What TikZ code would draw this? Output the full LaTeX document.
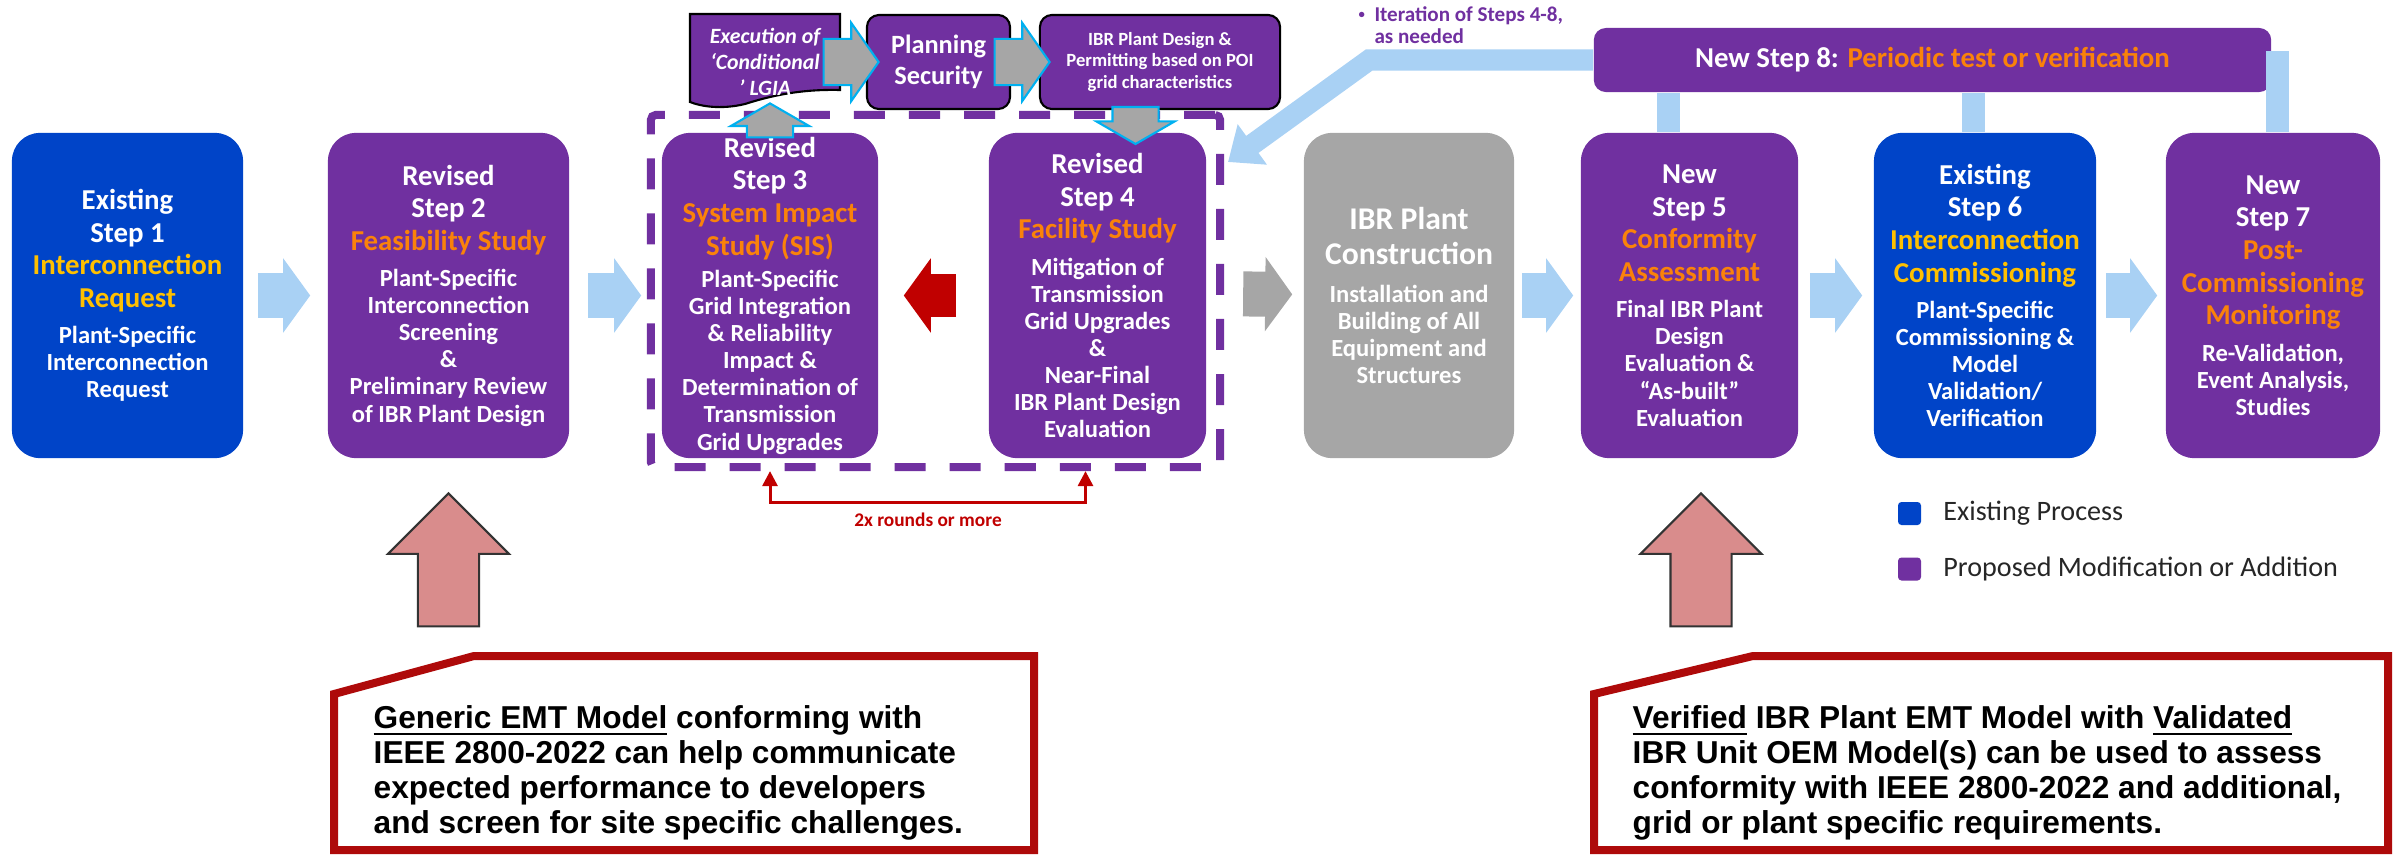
\documentclass[tikz,border=0pt]{standalone}
\usepackage{fontspec}
\setmainfont{Carlito}
\newfontfamily\notefont{Liberation Sans}
\usetikzlibrary{arrows.meta,shapes.arrows,positioning,calc}
\definecolor{Bl}{RGB}{0,68,200}
\definecolor{Pu}{RGB}{112,48,160}
\definecolor{Or}{RGB}{250,130,10}
\definecolor{Ye}{RGB}{255,192,0}
\definecolor{Gr}{RGB}{166,166,166}
\definecolor{Lb}{RGB}{169,209,244}
\definecolor{Cy}{RGB}{0,176,240}
\definecolor{Rd}{RGB}{192,0,0}
\definecolor{Dr}{RGB}{174,10,10}
\definecolor{Pk}{RGB}{217,140,140}
\newcommand{\stephead}{\fontsize{8.2}{9.3}\selectfont}
\newcommand{\stepbody}{\fontsize{7}{7.7}\selectfont}

\begin{document}
\begin{tikzpicture}[x=0.01cm,y=-0.01cm,
    stepbox/.style={rounded corners=0.28cm,minimum height=3.25cm,inner sep=0pt,text=white,align=flush center,font=\bfseries},
    topbox/.style={draw=black,line width=0.6pt,fill=Pu,rounded corners=0.12cm,inner sep=0pt,text=white,align=center},
    flow/.style={line width=0.45cm,-{Triangle[length=0.27cm,width=0.73cm]}},
    hook/.style={single arrow,fill=Gr,draw=Cy,line width=0.6pt,inner xsep=0pt,inner ysep=0.22cm,single arrow head extend=0.16cm},
    band/.style={Lb,line width=0.23cm},
    lift/.style={single arrow,shape border rotate=90,fill=Pk,draw=black!80,line width=0.6pt,inner xsep=0.295cm,inner ysep=0pt,minimum height=1.33cm,single arrow head extend=0.3cm,single arrow tip angle=90},
    calloutbox/.style={draw=Dr,line width=0.08cm,fill=white},
    notetext/.style={anchor=north west,inner sep=0pt,align=left,font=\notefont\bfseries\fontsize{9}{9.9}\selectfont},
    legendbox/.style={minimum size=0.23cm,inner sep=0pt,rounded corners=1pt},
    legendtext/.style={right=0.21cm of #1,inner sep=0pt,text=black!85,font=\fontsize{8}{9}\selectfont}]

  \useasboundingbox (0,0) rectangle (2396,854);

  % loop between step 3 and step 4
  \node[draw=Pu,line width=0.08cm,dash pattern=on 0.31cm off 0.24cm,rounded corners=0.05cm,
    minimum width=5.69cm,minimum height=3.52cm] (loop) at (935.5,291) {};

  % steps
  \node[stepbox,fill=Bl,minimum width=2.31cm,text width=2.2cm] (s1) at (127.5,295.5)
    {{\stephead Existing\\Step 1\\\color{Ye}Interconnection\\Request\par}\vspace{2.6pt}
     {\stepbody Plant-Specific\\Interconnection\\Request\par}};
  \node[stepbox,fill=Pu,minimum width=2.41cm,text width=2.3cm] (s2) at (448.5,295.5)
    {{\stephead Revised\\Step 2\\\color{Or}Feasibility Study\par}\vspace{2.6pt}
     {\stepbody Plant-Specific\\Interconnection\\Screening\\\&\\Preliminary Review\\of IBR Plant Design\par}};
  \node[stepbox,fill=Pu,minimum width=2.16cm,text width=2.1cm] (s3) at (770,295.5)
    {{\stephead Revised\\Step 3\\\color{Or}System Impact\\Study (SIS)\par}\vspace{1.5pt}
     {\stepbody Plant-Specific\\Grid Integration\\\& Reliability\\Impact \&\\Determination of\\Transmission\\Grid Upgrades\par}};
  \node[stepbox,fill=Pu,minimum width=2.17cm,text width=2.1cm] (s4) at (1097.5,295.5)
    {{\stephead Revised\\Step 4\\\color{Or}Facility Study\par}\vspace{2.6pt}
     {\stepbody Mitigation of\\Transmission\\Grid Upgrades\\\&\\Near-Final\\IBR Plant Design\\Evaluation\par}};
  \node[stepbox,fill=Gr,minimum width=2.10cm,text width=2.05cm] (build) at (1409,295.5)
    {{\fontsize{9}{10}\selectfont IBR Plant\\Construction\par}\vspace{3pt}
     {\stepbody Installation and\\Building of All\\Equipment and\\Structures\par}};
  \node[stepbox,fill=Pu,minimum width=2.17cm,text width=2.1cm] (s5) at (1689.5,295.5)
    {{\stephead New\\Step 5\\\color{Or}Conformity\\Assessment\par}\vspace{2.6pt}
     {\stepbody Final IBR Plant\\Design\\Evaluation \&\\“As-built”\\Evaluation\par}};
  \node[stepbox,fill=Bl,minimum width=2.22cm,text width=2.15cm] (s6) at (1985,295.5)
    {{\stephead Existing\\Step 6\\\color{Ye}Interconnection\\Commissioning\par}\vspace{2.6pt}
     {\stepbody Plant-Specific\\Commissioning \&\\Model\\Validation/\\Verification\par}};
  \node[stepbox,fill=Pu,minimum width=2.14cm,text width=2.1cm] (s7) at (2273,295.5)
    {{\stephead New\\Step 7\\\color{Or}Post-\\Commissioning\\Monitoring\par}\vspace{2.6pt}
     {\stepbody Re-Validation,\\Event Analysis,\\Studies\par}};

  % flow arrows
  \draw[flow,Lb,shorten <=0.14cm,shorten >=0.17cm] (s1) -- (s2);
  \draw[flow,Lb,shorten <=0.18cm,shorten >=0.20cm] (s2) -- (s3);
  \draw[flow,Rd,line width=0.43cm,shorten <=0.32cm,shorten >=0.25cm] (s4) -- (s3);
  \draw[flow,Gr,shorten <=0.19cm,shorten >=0.11cm] (loop) -- (build);
  \draw[flow,Lb,shorten <=0.07cm,shorten >=0.07cm] (build) -- (s5);
  \draw[flow,Lb,shorten <=0.11cm,shorten >=0.11cm] (s5) -- (s6);
  \draw[flow,Lb,shorten <=0.09cm,shorten >=0.08cm] (s6) -- (s7);

  % 2x rounds
  \draw[Rd,line width=0.03cm,{Triangle[length=0.15cm,width=0.15cm]}-{Triangle[length=0.15cm,width=0.15cm]}]
    (s3 |- loop.south) |- ([yshift=-0.31cm]loop.south) -| ($(s4 |- loop.south)+(-12,0)$);
  \node[text=Rd,font=\bfseries\fontsize{5.5}{6}\selectfont] (rounds) at (928,520) {2x rounds or more};

  % top row
  \filldraw[fill=Pu,draw=black,line width=0.6pt] (690,14) -- (840,14) -- (840,90)
    .. controls (800,89) and (770,96) .. (745,104) .. controls (720,110) and (700,106) .. (690,102) -- cycle;
  \node[text=white,align=center,font=\bfseries\itshape\fontsize{6.2}{7.3}\selectfont] (exec) at (765,62)
    {Execution of\\‘Conditional\\’ LGIA};
  \node[topbox,minimum width=1.43cm,minimum height=0.94cm,font=\bfseries\fontsize{7.5}{8.8}\selectfont] (plan) at (938.5,62)
    {Planning\\Security};
  \node[topbox,minimum width=2.40cm,minimum height=0.94cm,font=\bfseries\fontsize{5.3}{6}\selectfont] (ibr) at (1160,62)
    {IBR Plant Design \&\\Permitting based on POI\\grid characteristics};
  \node[hook,minimum height=0.55cm,single arrow tip angle=110,anchor=tip] (h1) at ([xshift=0.14cm]plan.west) {};
  \node[hook,minimum height=0.55cm,single arrow tip angle=110,anchor=tip] (h2) at ([xshift=0.12cm]ibr.west) {};
  \node[hook,shape border rotate=90,inner xsep=0.22cm,inner ysep=0pt,minimum height=0.34cm,single arrow tip angle=120,anchor=tip] (h3) at ([yshift=0.30cm]s3.north) {};
  \node[hook,shape border rotate=270,inner xsep=0.22cm,inner ysep=0pt,minimum height=0.37cm,single arrow tip angle=120,anchor=tip] (h4) at ([xshift=0.38cm,yshift=-0.13cm]s4.north) {};

  % step 8 and its links
  \node[fill=Pu,rounded corners=0.12cm,minimum width=6.77cm,minimum height=0.64cm,text=white,
    font=\bfseries\fontsize{8.2}{9}\selectfont] (s8) at (1932.5,60) {New Step 8: \textcolor{Or}{Periodic test or verification}};
  \draw[band] ([xshift=-0.21cm]s5.north) -- ([xshift=-0.21cm]s5.north |- s8.south);
  \draw[band] ([xshift=-0.115cm]s6.north) -- ([xshift=-0.115cm]s6.north |- s8.south);
  \draw[band] ([xshift=0.04cm]s7.north) -- ++(0,-81);
  \coordinate (fbtip) at (1228,162);
  \draw[Lb,line width=0.21cm,-{Triangle[length=0.3cm,width=0.48cm]}] (s8.west) -- ++(-224,0) -- (fbtip);
  \node[anchor=north west,inner sep=0pt,text=Pu,align=left,font=\bfseries\fontsize{6}{6.2}\selectfont] (iter) at (1358,6)
    {\makebox[0.75em][l]{\raisebox{0.15em}{\scalebox{0.6}{\textbullet}}}Iteration of Steps 4-8,\\\hspace*{0.75em}as needed};

  % callouts
  \node[lift,anchor=tip] (u1) at ([yshift=-0.33cm]s2.south) {};
  \node[lift,anchor=tip] (u2) at ([xshift=0.115cm,yshift=-0.33cm]s5.south) {};
  \draw[calloutbox] (334,694) -- (474,656) -- (1034,656) -- (1034,850) -- (334,850) -- cycle;
  \node[notetext] (note1) at (373,705)
    {\underline{Generic EMT Model} conforming with\\IEEE 2800-2022 can help communicate\\expected performance to developers\\and screen for site specific challenges.};
  \draw[calloutbox] (1594,694) -- (1753,656) -- (2388,656) -- (2388,850) -- (1594,850) -- cycle;
  \node[notetext] (note2) at (1632,705)
    {\underline{Verified} IBR Plant EMT Model with \underline{Validated}\\IBR Unit OEM Model(s) can be used to assess\\conformity with IEEE 2800-2022 and additional,\\grid or plant specific requirements.};

  % legend
  \node[legendbox,fill=Bl] (keyB) at (1909.5,513.5) {};
  \node[legendtext=keyB] (keyBtxt) {Existing Process};
  \node[legendbox,fill=Pu] (keyP) at (1909.5,569) {};
  \node[legendtext=keyP] (keyPtxt) {Proposed Modification or Addition};
\end{tikzpicture}
\end{document}
